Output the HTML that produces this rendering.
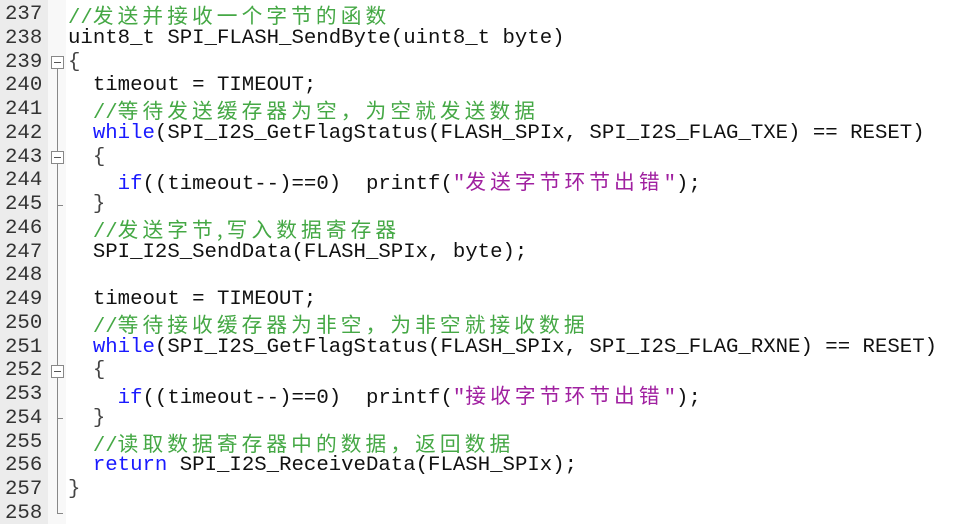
<!DOCTYPE html>
<html><head><meta charset="utf-8"><style>
body{margin:0;width:973px;height:524px;background:#fff;overflow:hidden;position:relative;font-family:"Liberation Mono","Noto Sans CJK SC",monospace;font-size:20.7px;}
#gut{position:absolute;left:0;top:0;width:48px;height:524px;background:#ececec;}
#fold{position:absolute;left:48px;top:0;width:18px;height:524px;background:#f8f8f8;}
.n{position:absolute;left:5px;color:#333;height:23.76px;line-height:23.76px;white-space:pre;}
.l{position:absolute;left:68px;height:23.76px;line-height:23.76px;white-space:pre;color:#111;}
.c{color:#45a845}
.k{color:#1a1aff}
.s{color:#a020a0}
.b{color:#444}
.z{font-family:"Noto Sans CJK SC",sans-serif;letter-spacing:4.1px;}
.box{position:absolute;left:51px;width:13px;height:13px;border:1px solid #888;background:#fff;box-sizing:border-box;}
.box:after{content:"";position:absolute;left:2px;top:5px;width:7px;height:1px;background:#555;}
.vl{position:absolute;left:57px;width:1px;background:#888;}
.tk{position:absolute;left:57px;width:6px;height:1px;background:#888;}
</style></head><body>
<div id="gut"></div><div id="fold"></div>
<div class="n" style="top:3px">237</div>
<div class="n" style="top:26.76px">238</div>
<div class="n" style="top:50.52px">239</div>
<div class="n" style="top:74.28px">240</div>
<div class="n" style="top:98.04px">241</div>
<div class="n" style="top:121.8px">242</div>
<div class="n" style="top:145.56px">243</div>
<div class="n" style="top:169.32px">244</div>
<div class="n" style="top:193.08px">245</div>
<div class="n" style="top:216.84px">246</div>
<div class="n" style="top:240.6px">247</div>
<div class="n" style="top:264.36px">248</div>
<div class="n" style="top:288.12px">249</div>
<div class="n" style="top:311.88px">250</div>
<div class="n" style="top:335.64px">251</div>
<div class="n" style="top:359.4px">252</div>
<div class="n" style="top:383.16px">253</div>
<div class="n" style="top:406.92px">254</div>
<div class="n" style="top:430.68px">255</div>
<div class="n" style="top:454.44px">256</div>
<div class="n" style="top:478.2px">257</div>
<div class="n" style="top:501.96px">258</div>

<div class="vl" style="top:68px;height:446px"></div>
<div class="tk" style="top:513px"></div>
<div class="tk" style="top:205px"></div>
<div class="tk" style="top:418px"></div>
<div class="box" style="top:56px"></div>
<div class="box" style="top:151px"></div>
<div class="box" style="top:365px"></div>

<div class="l c" style="top:3px">//<span class="z">发送并接收一个字节的函数</span></div>
<div class="l" style="top:26.76px">uint8_t SPI_FLASH_SendByte(uint8_t byte)</div>
<div class="l b" style="top:50.52px">{</div>
<div class="l" style="top:74.28px">  timeout = TIMEOUT;</div>
<div class="l c" style="top:98.04px">  //<span class="z">等待发送缓存器为空，为空就发送数据</span></div>
<div class="l" style="top:121.8px">  <span class="k">while</span>(SPI_I2S_GetFlagStatus(FLASH_SPIx, SPI_I2S_FLAG_TXE) == RESET)</div>
<div class="l b" style="top:145.56px">  {</div>
<div class="l" style="top:169.32px">    <span class="k">if</span>((timeout--)==0)  printf(<span class="s">"<span class="z">发送字节环节出错</span>"</span>);</div>
<div class="l b" style="top:193.08px">  }</div>
<div class="l c" style="top:216.84px">  //<span class="z">发送字节,写入数据寄存器</span></div>
<div class="l" style="top:240.6px">  SPI_I2S_SendData(FLASH_SPIx, byte);</div>
<div class="l" style="top:288.12px">  timeout = TIMEOUT;</div>
<div class="l c" style="top:311.88px">  //<span class="z">等待接收缓存器为非空，为非空就接收数据</span></div>
<div class="l" style="top:335.64px">  <span class="k">while</span>(SPI_I2S_GetFlagStatus(FLASH_SPIx, SPI_I2S_FLAG_RXNE) == RESET)</div>
<div class="l b" style="top:359.4px">  {</div>
<div class="l" style="top:383.16px">    <span class="k">if</span>((timeout--)==0)  printf(<span class="s">"<span class="z">接收字节环节出错</span>"</span>);</div>
<div class="l b" style="top:406.92px">  }</div>
<div class="l c" style="top:430.68px">  //<span class="z">读取数据寄存器中的数据，返回数据</span></div>
<div class="l" style="top:454.44px">  <span class="k">return</span> SPI_I2S_ReceiveData(FLASH_SPIx);</div>
<div class="l b" style="top:478.2px">}</div>
</body></html>
